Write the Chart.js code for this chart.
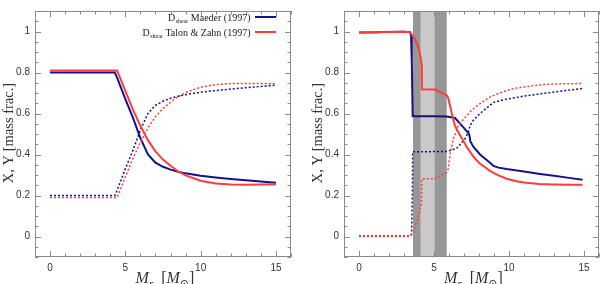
<!DOCTYPE html>
<html>
<head>
<meta charset="utf-8">
<script src="https://cdn.jsdelivr.net/npm/chart.js@4.4.1/dist/chart.umd.min.js"></script>
<style>
  html, body { margin: 0; padding: 0; background: #fff; }
  #wrap { position: relative; width: 600px; height: 284px; overflow: hidden; }
  canvas { position: absolute; top: 0; }
  #c1 { left: 0; }
  #c2 { left: 300px; }
</style>
</head>
<body>
<div id="wrap">
  <canvas id="c1" width="300" height="284"></canvas>
  <canvas id="c2" width="300" height="284"></canvas>
</div>
<script>
// ---------------- DATA ----------------
// Left panel (all four curves share one mass grid)
const leftMass      = [0, 1, 2, 3, 4, 4.3, 4.45, 5, 5.5, 6, 6.5, 7, 7.5, 8, 8.5, 9, 10, 11, 12, 13, 14, 15];
const leftX_Maeder  = [0.80, 0.80, 0.80, 0.80, 0.80, 0.80, 0.775, 0.67, 0.58, 0.48, 0.40, 0.36, 0.34, 0.326, 0.316, 0.308, 0.296, 0.288, 0.281, 0.274, 0.268, 0.262];
const leftY_Maeder  = [0.20, 0.20, 0.20, 0.20, 0.20, 0.20, 0.225, 0.33, 0.42, 0.52, 0.60, 0.64, 0.66, 0.674, 0.684, 0.692, 0.704, 0.712, 0.719, 0.726, 0.732, 0.738];
const leftX_Talon   = [0.81, 0.81, 0.81, 0.81, 0.81, 0.81, 0.81, 0.71, 0.62, 0.54, 0.47, 0.415, 0.375, 0.345, 0.318, 0.298, 0.272, 0.259, 0.254, 0.253, 0.254, 0.255];
const leftY_Talon   = [0.19, 0.19, 0.19, 0.19, 0.19, 0.19, 0.19, 0.29, 0.38, 0.46, 0.53, 0.585, 0.625, 0.655, 0.682, 0.702, 0.728, 0.741, 0.746, 0.747, 0.746, 0.745];

// Right panel
const rightMassXM = [0, 1.3, 1.5, 3, 3.4, 3.47, 3.52, 3.58, 4, 5, 5.85, 6.4, 6.96, 7.29, 7.36, 7.42, 7.62, 8.07, 8.73, 8.85, 8.96, 9.3, 9.84, 11, 12.07, 13, 14, 14.9];
const rightX_Maeder = [0.995, 0.996, 0.998, 0.999, 0.997, 0.98, 0.85, 0.587, 0.586, 0.586, 0.585, 0.578, 0.532, 0.505, 0.495, 0.465, 0.438, 0.40, 0.36, 0.352, 0.344, 0.336, 0.329, 0.317, 0.305, 0.296, 0.286, 0.277];
const rightMassYM = [0, 3.4, 3.5, 3.56, 3.58, 5.85, 6.51, 7.07, 7.3, 7.4, 7.6, 8.07, 8.73, 9.0, 9.84, 11, 12, 13, 14, 14.9];
const rightY_Maeder = [0.002, 0.003, 0.01, 0.2, 0.413, 0.415, 0.43, 0.477, 0.51, 0.54, 0.565, 0.60, 0.64, 0.655, 0.67, 0.685, 0.695, 0.705, 0.714, 0.722];
const rightMassXT = [0, 1, 2, 3, 3.4, 3.62, 3.73, 3.96, 4.13, 4.17, 4.19, 5.07, 5.4, 5.85, 5.95, 6.18, 6.4, 6.84, 7.2, 7.62, 8.0, 8.5, 8.73, 9.3, 9.84, 10.5, 11, 12, 13, 14, 14.9];
const rightX_Talon  = [0.995, 0.996, 0.998, 0.999, 0.997, 0.975, 0.962, 0.923, 0.868, 0.84, 0.718, 0.717, 0.704, 0.689, 0.675, 0.602, 0.54, 0.48, 0.435, 0.39, 0.36, 0.333, 0.32, 0.298, 0.282, 0.27, 0.263, 0.256, 0.254, 0.253, 0.253];
const rightMassYT = [0, 3.4, 3.62, 3.84, 4.07, 4.16, 4.19, 5.07, 5.4, 5.85, 5.95, 6.07, 6.29, 6.62, 7.0, 7.5, 8.0, 8.73, 9.3, 9.84, 10.5, 11.6, 12.5, 13.5, 14.9];
const rightY_Talon  = [0, 0, 0.02, 0.07, 0.133, 0.16, 0.282, 0.282, 0.295, 0.313, 0.33, 0.40, 0.477, 0.54, 0.575, 0.615, 0.645, 0.68, 0.698, 0.712, 0.724, 0.736, 0.742, 0.745, 0.746];

// Shaded zones (right panel), in M_r
const darkZone  = [3.6, 5.85];
const lightZone = [4.1, 5.05];

// Axes / ticks / labels
const xRange = [-1, 16];
const yRange = [-0.1, 1.1];
const xMajorTicks = [0, 5, 10, 15];
const yMajorTicks = [0, 0.2, 0.4, 0.6, 0.8, 1];
const legendLabels = [
  { main: 'D', sub: 'shear', rest: ' Maeder (1997)' },
  { main: 'D', sub: 'shear', rest: ' Talon & Zahn (1997)' }
];
const yTitle = 'X, Y [mass frac.]';

// ---------------- STYLE ----------------
const BLUE = '#12128a';
const RED = '#ff3b3b';
const FRAME = '#8a8a8a';
const SERIF = '"Liberation Serif", "DejaVu Serif", serif';
const SANS = '"Liberation Sans", "DejaVu Sans", sans-serif';

function pts(xs, ys) { return xs.map((x, i) => ({ x: x, y: ys[i] })); }

function ds(xs, ys, color, dotted) {
  return {
    data: pts(xs, ys),
    borderColor: color,
    backgroundColor: color,
    borderWidth: dotted ? 1.5 : 2,
    borderDash: dotted ? [2, 2] : [],
    pointRadius: 0,
    showLine: true,
    tension: 0,
    fill: false
  };
}

const framePlugin = {
  id: 'frame',
  beforeDatasetsDraw(chart, args, opts) {
    const { ctx, chartArea: a, scales: { x } } = chart;
    if (opts.bands) {
      ctx.save();
      ctx.fillStyle = '#979797';
      const d0 = x.getPixelForValue(darkZone[0]), d1 = x.getPixelForValue(darkZone[1]);
      ctx.fillRect(d0, a.top, d1 - d0, a.bottom - a.top);
      ctx.fillStyle = '#c9c9c9';
      const l0 = x.getPixelForValue(lightZone[0]), l1 = x.getPixelForValue(lightZone[1]);
      ctx.fillRect(l0, a.top, l1 - l0, a.bottom - a.top);
      ctx.restore();
    }
  },
  afterDraw(chart, args, opts) {
    const { ctx, chartArea: a, scales: { x, y } } = chart;
    ctx.save();
    ctx.strokeStyle = FRAME;
    ctx.lineWidth = 1;
    ctx.beginPath();
    // x ticks every 1, major every 5
    for (let v = Math.ceil(xRange[0]); v <= xRange[1]; v++) {
      const px = Math.round(x.getPixelForValue(v)) + 0.5;
      const len = (v % 5 === 0) ? 6 : 3.5;
      ctx.moveTo(px, a.bottom); ctx.lineTo(px, a.bottom - len);
      ctx.moveTo(px, a.top); ctx.lineTo(px, a.top + len);
    }
    // y ticks every 0.05, major every 0.2
    for (let k = -2; k <= 22; k++) {
      const v = k * 0.05;
      const py = Math.round(y.getPixelForValue(v)) + 0.5;
      const len = (k % 4 === 0) ? 6 : 3.5;
      ctx.moveTo(a.left, py); ctx.lineTo(a.left + len, py);
      ctx.moveTo(a.right, py); ctx.lineTo(a.right - len, py);
    }
    ctx.stroke();
    ctx.strokeRect(a.left + 0.5, a.top + 0.5, a.right - a.left - 1, a.bottom - a.top - 1);

    // y title
    ctx.fillStyle = '#333';
    ctx.font = '14.5px ' + SERIF;
    ctx.textAlign = 'center';
    ctx.textBaseline = 'middle';
    ctx.save();
    ctx.translate(opts.yTitleX, 133);
    ctx.rotate(-Math.PI / 2);
    ctx.fillText(yTitle, 0, 0);
    ctx.restore();

    // x title: M_r [M_sun]
    const big = 'italic 16px ' + SERIF, bigUp = '16px ' + SERIF, small = 'italic 11px ' + SERIF, smallUp = '11px ' + SERIF;
    const parts = [
      { t: 'M', f: big, dy: 0 },
      { t: 'r', f: small, dy: 4 },
      { t: '  [', f: bigUp, dy: 0 },
      { t: 'M', f: big, dy: 0 },
      { t: '\u2299', f: smallUp, dy: 4 },
      { t: ']', f: bigUp, dy: 0 }
    ];
    let w = 0;
    parts.forEach(p => { ctx.font = p.f; p.w = ctx.measureText(p.t).width; w += p.w; });
    let cx = (a.left + a.right) / 2 - w / 2 + 2;
    const base = 283;
    ctx.textAlign = 'left';
    ctx.textBaseline = 'alphabetic';
    parts.forEach(p => { ctx.font = p.f; ctx.fillText(p.t, cx, base + p.dy); cx += p.w; });

    // legend
    if (opts.legend) {
      const colors = [BLUE, RED];
      const rows = [17, 32];
      legendLabels.forEach((lab, i) => {
        const yy = rows[i];
        const endX = 250;
        const mf = '10px ' + SERIF, sf = '6px ' + SERIF;
        ctx.font = mf;
        const wr = ctx.measureText(lab.rest).width;
        const wm = ctx.measureText(lab.main).width;
        ctx.font = sf;
        const ws = ctx.measureText(lab.sub).width;
        let sx = endX - wr - ws - wm;
        ctx.fillStyle = '#222';
        ctx.textBaseline = 'alphabetic';
        ctx.font = mf;
        ctx.fillText(lab.main, sx, yy + 3.5);
        ctx.font = sf;
        ctx.fillText(lab.sub, sx + wm + 0.5, yy + 5.5);
        ctx.font = mf;
        ctx.fillText(lab.rest, sx + wm + ws + 0.5, yy + 3.5);
        ctx.strokeStyle = colors[i];
        ctx.lineWidth = 2;
        ctx.beginPath();
        ctx.moveTo(255, yy); ctx.lineTo(276, yy);
        ctx.stroke();
      });
    }
    ctx.restore();
  }
};

function makeChart(id, datasets, cfg) {
  return new Chart(document.getElementById(id), {
    type: 'scatter',
    data: { datasets: datasets },
    plugins: [framePlugin],
    options: {
      responsive: false,
      animation: false,
      events: [],
      layout: { padding: { top: 0, right: cfg.padRight, left: 0, bottom: 0 } },
      plugins: {
        legend: { display: false },
        tooltip: { enabled: false },
        frame: { bands: cfg.bands, legend: cfg.legend, yTitleX: cfg.yTitleX }
      },
      scales: {
        x: {
          type: 'linear', min: xRange[0], max: xRange[1],
          grid: { display: false, drawTicks: false },
          border: { display: false },
          afterBuildTicks: s => { s.ticks = xMajorTicks.map(v => ({ value: v })); },
          afterFit: s => { s.height = 27; },
          ticks: { padding: 5, color: '#333', font: { family: SANS, size: 10 }, callback: v => String(v), maxRotation: 0 }
        },
        y: {
          type: 'linear', min: yRange[0], max: yRange[1],
          grid: { display: false, drawTicks: false },
          border: { display: false },
          afterBuildTicks: s => { s.ticks = yMajorTicks.map(v => ({ value: v })); },
          afterFit: s => { s.width = cfg.yWidth; },
          ticks: { padding: 5, color: '#333', font: { family: SANS, size: 10 },
                   callback: v => (v === 0 ? '0' : (Math.abs(v - 1) < 1e-9 ? '1' : v.toFixed(1))) }
        }
      }
    }
  });
}

makeChart('c1', [
  ds(leftMass, leftX_Talon, RED, false),
  ds(leftMass, leftY_Talon, RED, true),
  ds(leftMass, leftX_Maeder, BLUE, false),
  ds(leftMass, leftY_Maeder, BLUE, true)
], { padRight: 9, yWidth: 35, bands: false, legend: true, yTitleX: 9 });

makeChart('c2', [
  ds(rightMassXT, rightX_Talon, RED, false),
  ds(rightMassYT, rightY_Talon, RED, true),
  ds(rightMassXM, rightX_Maeder, BLUE, false),
  ds(rightMassYM, rightY_Maeder, BLUE, true)
], { padRight: 1, yWidth: 44, bands: true, legend: false, yTitleX: 18 });
</script>
</body>
</html>
